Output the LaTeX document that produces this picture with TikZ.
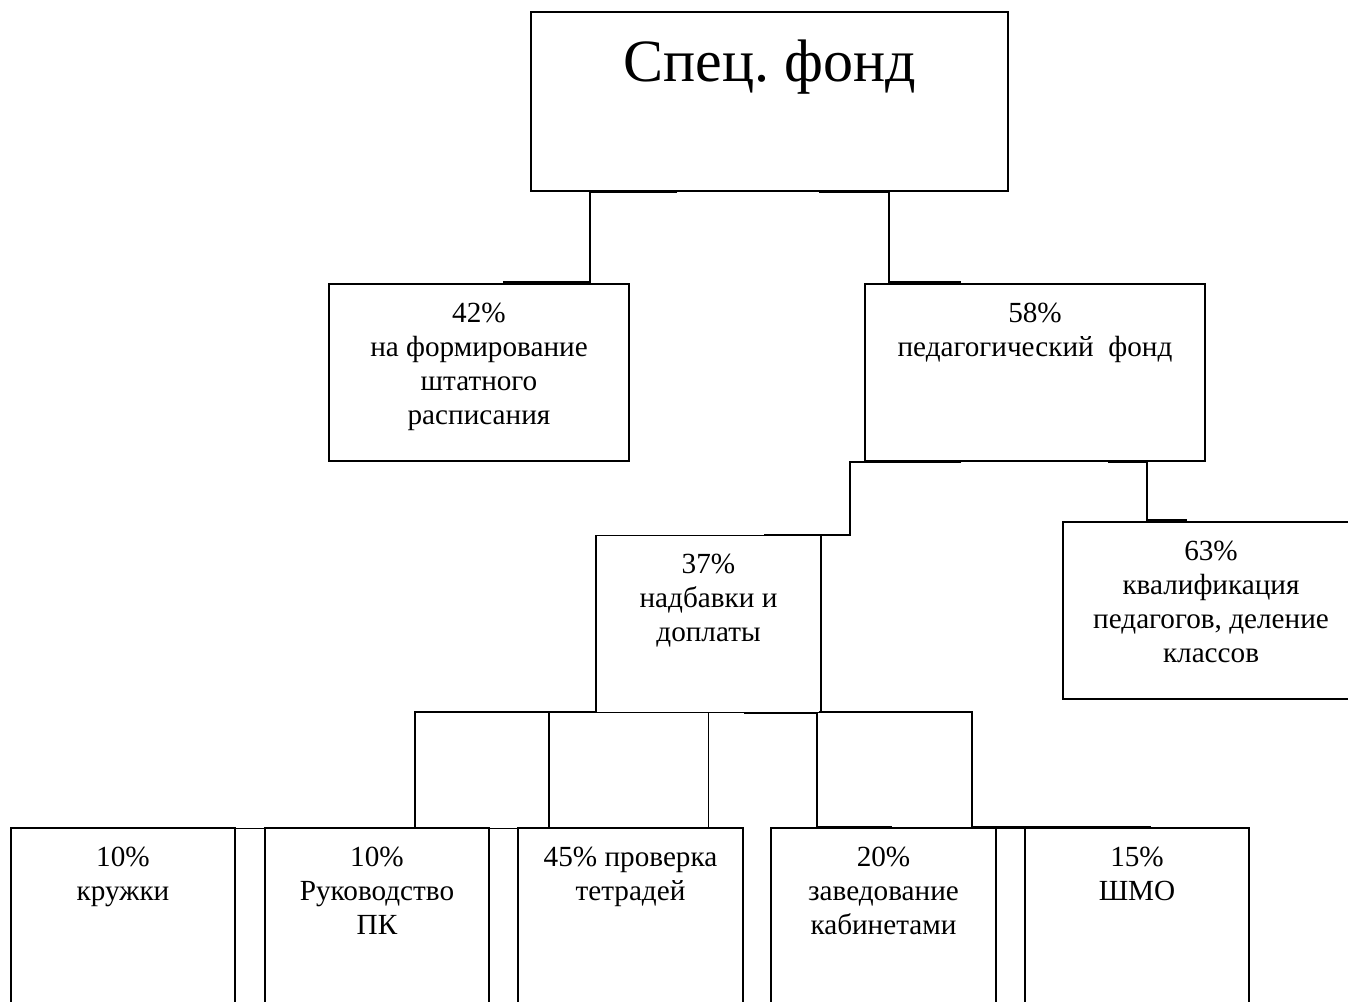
\documentclass[tikz,border=0pt]{standalone}
\usepackage{fontspec}
\setmainfont{Liberation Serif}
\usetikzlibrary{
    calc,
    positioning
}
\frenchspacing

\begin{document}
\begin{tikzpicture}[x=0.5pt, y=-0.5pt,
        block/.style={draw, line width=0.6pt, inner sep=0pt, minimum width=#1*0.5pt, minimum height=88.5pt},
        txt/.style={anchor=north, align=center, inner sep=0pt, font=\fontsize{14.6}{17}\selectfont},
        title/.style={anchor=base, inner sep=0pt, font=\fontsize{30}{36}\selectfont},
        link/.style={line width=0.95pt}]
                        \useasboundingbox (0, 0) rectangle (1348, 1001);
                        \clip (0, 0) rectangle (1348, 1001);
                        \node[block=477, minimum height=89.5pt] (spec) at (769.5, 101.5) {};
                        \node[block=300] (b42) at (479, 372.5) {};
                        \node[block=340] (b58) at (1035, 372.5) {};
                        \node[block=225] (b37) at (708.5, 624) {};
                        \node[block=296] (b63) at (1211, 610.5) {};
                        \node[block=224] (k1) at (123, 916.5) {};
                        \node[block=224] (k2) at (377, 916.5) {};
                        \node[block=225] (k3) at (630.5, 916.5) {};
                        \node[block=225] (k4) at (883.5, 916.5) {};
                        \node[block=224] (k5) at (1137, 916.5) {};
                        \node[title] (spect) at ($(spec.north)+(0, 70)$) {Спец. фонд};
                        \node[txt] (b42t) at ($(b42.north)+(0, 19)$) {42\%\\на формирование\\штатного\\расписания};
                        \node[txt] (b58t) at ($(b58.north)+(0, 19)$) {58\%\\педагогический~ фонд};
                        \node[txt] (b37t) at ($(b37.north)+(0, 19)$) {37\%\\надбавки и\\доплаты};
                        \node[txt] (b63t) at ($(b63.north)+(0, 19)$) {63\%\\квалификация\\педагогов, деление\\классов};
                        \node[txt] (k1t) at ($(k1.north)+(0, 19)$) {10\%\\кружки};
                        \node[txt] (k2t) at ($(k2.north)+(0, 19)$) {10\%\\Руководство\\ПК};
                        \node[txt] (k3t) at ($(k3.north)+(0, 19)$) {45\% проверка\\тетрадей};
                        \node[txt] (k4t) at ($(k4.north)+(0, 19)$) {20\%\\заведование\\кабинетами};
                        \node[txt] (k5t) at ($(k5.north)+(0, 19)$) {15\%\\ШМО};
                        \draw[link] ($(spec.south west)+(147, 0)$) -- ++(-87, 0) |- ($(b42.north west)+(175, -1)$);
                        \draw[link] ($(spec.south west)+(289, 0)$) -- ++(70, 0) |- ($(b58.north west)+(97, -1)$);
                        \draw[link] ($(b58.south west)+(97, 0)$) -- ++(-111, 0) |- ($(b37.north west)+(169, 0)$);
                        \draw[link] ($(b58.south west)+(244, 0)$) -- ++(39, 0) |- ($(b63.north west)+(125, -1)$);
                        \draw[link] ($(b37.south west)+(0, -1)$) -| ($(k2.north west)+(151, 0)$);
                        \draw[link] ($(b37.south west)+(-46, -1)$) -- ($(k3.north west)+(32, 0)$);
                        \draw[link] (b37.south) -- (b37.south |- k3.north);
                        \draw[link] ($(b37.south west)+(149, 0)$) -| ($(k4.north west)+(47, 0)$) -- ++(75, 0);
                        \draw[link] ($(b37.south east)+(-3, -1)$) -| ($(k4.north west)+(202, 0)$) -- ($(k5.north west)+(127, 0)$);
                        \draw[line width=0.6pt] ($(k1.north east)+(0, 1)$) -- ($(k2.north west)+(0, 1)$);
                        \draw[line width=0.6pt] ($(k2.north east)+(0, 1)$) -- ($(k3.north west)+(0, 1)$);
                        \draw[line width=0.6pt] ($(k4.north east)+(0, 1)$) -- ($(k5.north west)+(0, 1)$);
                    \end{tikzpicture}
\end{document}
